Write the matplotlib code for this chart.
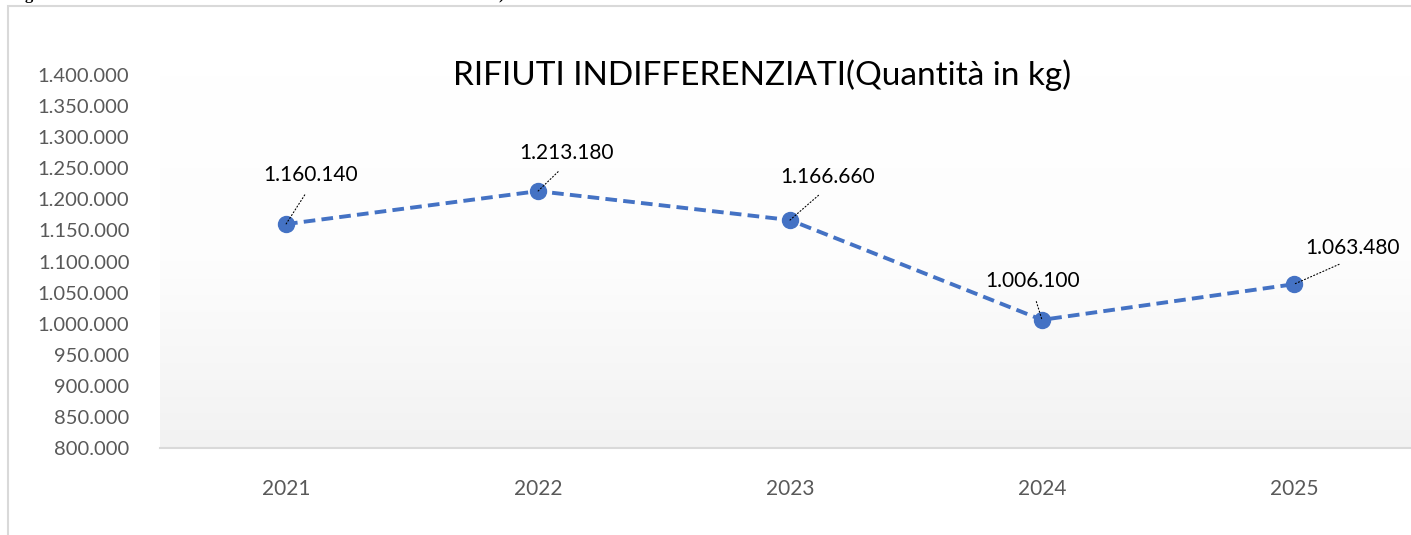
"""
Line chart: RIFIUTI INDIFFERENZIATI (Quantità in kg), 2021-2025.
Output: out.png
"""

import numpy as np
import matplotlib
matplotlib.use("Agg")
import matplotlib.pyplot as plt
from matplotlib.colors import LinearSegmentedColormap
from matplotlib.patches import Rectangle

years = ["2021", "2022", "2023", "2024", "2025"]
quantities = [1160140, 1213180, 1166660, 1006100, 1063480]
y_ticks = list(range(800000, 1400001, 50000))
title = "RIFIUTI INDIFFERENZIATI(Quantità in kg)"

# label offsets in pixels (dx, dy) from each point
label_offsets = [(25, 49), (29, 38), (38, 43), (-9, 39), (59, 36)]

LINE_BLUE = "#4472C4"
TICK_GREY = "#595959"
BORDER = "#d9d9d9"
FONT = ["Lato", "DejaVu Sans"]


def it_fmt(v):
    return f"{v:,.0f}".replace(",", ".")


def main():
    W, H = 1411, 535
    fig = plt.figure(figsize=(W / 100, H / 100), dpi=100)

    # outer chart frame (left and top edges visible)
    fig.patches.append(Rectangle((8 / W, -0.1), 1.2, 1 - 6 / H + 0.1,
                                 transform=fig.transFigure, fill=False,
                                 edgecolor=BORDER, linewidth=1.5))

    # cut-off text from the page above
    fig.text(25 / W, 1 + 1 / H, "g", fontsize=12, fontweight="bold",
             family="Liberation Serif", va="baseline")
    fig.text(498 / W, 1 + 1 / H, ")", fontsize=12, fontweight="bold",
             family="Liberation Serif", va="baseline")

    left, right = 160 / W, 1420 / W
    bottom, top = (H - 448) / H, (H - 75) / H
    ax = fig.add_axes([left, bottom, right - left, top - bottom])

    x = np.arange(len(years))
    ax.set_xlim(-0.5, len(years) - 0.5)
    ax.set_ylim(y_ticks[0], y_ticks[-1])

    # background gradient, white on top to light grey at the bottom
    cmap = LinearSegmentedColormap.from_list("bg", ["#f2f2f2", "#fdfdfd", "#ffffff"])
    grad = np.linspace(0, 1, 256).reshape(-1, 1)
    ax.imshow(grad, cmap=cmap, aspect="auto", origin="lower",
              extent=[-0.5, len(years) - 0.5, y_ticks[0], y_ticks[-1]], zorder=0)

    ax.plot(x, quantities, color=LINE_BLUE, linestyle=(0, (3, 1.6)),
            linewidth=2.8, marker="o", markersize=11.5, zorder=3)

    for xi, v, (dx, dy) in zip(x, quantities, label_offsets):
        ax.annotate(it_fmt(v), xy=(xi, v), xytext=(dx, dy), textcoords="offset pixels",
                    ha="center", va="center", fontsize=15, family=FONT, color="black",
                    arrowprops=dict(arrowstyle="-", linestyle=(0, (1, 2)), color="black",
                                    linewidth=0.8, relpos=(0.5, 0), shrinkA=6, shrinkB=0),
                    zorder=4)

    ax.set_xticks(x)
    ax.set_xticklabels(years)
    ax.set_yticks(y_ticks)
    ax.set_yticklabels([it_fmt(t) for t in y_ticks])
    ax.tick_params(axis="both", length=0, colors=TICK_GREY, labelsize=14.5)
    ax.tick_params(axis="x", pad=22, labelsize=15)
    ax.tick_params(axis="y", pad=22)
    for lab in ax.get_xticklabels() + ax.get_yticklabels():
        lab.set_family(FONT)

    for side in ["top", "right", "left"]:
        ax.spines[side].set_visible(False)
    ax.spines["bottom"].set_color(BORDER)
    ax.spines["bottom"].set_linewidth(1.5)

    fig.text(762 / W, 1 - 75 / H, title, ha="center", va="center",
             fontsize=24, family=FONT, color="black")

    fig.savefig("out.png", dpi=100)
    plt.close(fig)


if __name__ == "__main__":
    main()
